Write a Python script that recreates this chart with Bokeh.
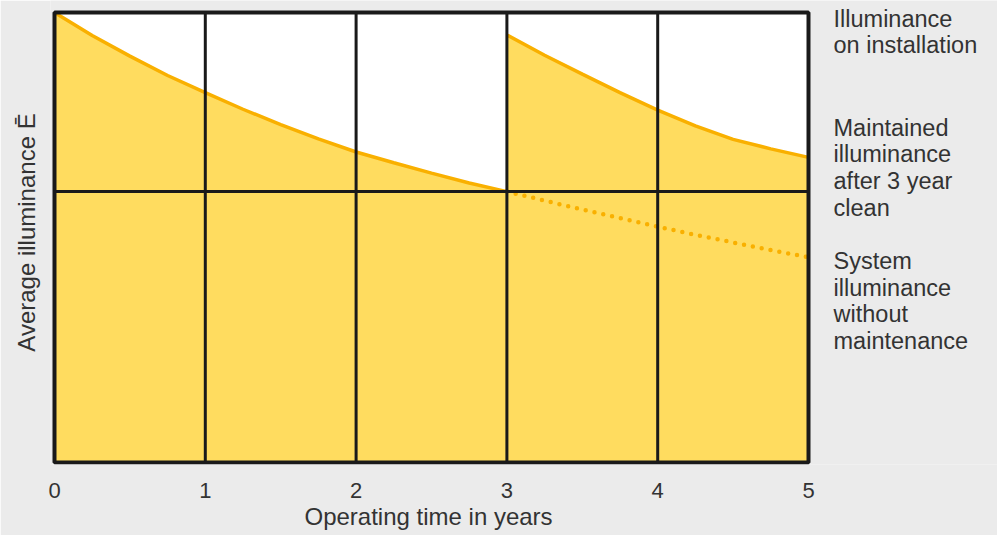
from bokeh.plotting import figure
from bokeh.models import FixedTicker, Range1d, Label, Title
from bokeh.embed import file_html
from bokeh.resources import INLINE

# ---- data ----
years_before = [0, 0.25, 0.5, 0.75, 1.0, 1.25, 1.5, 1.75, 2.0, 2.25, 2.5, 2.75, 3.0]
illum_before = [100, 94.9, 90.3, 86.0, 82.2, 78.5, 75.1, 71.9, 69.0, 66.6, 64.3, 62.1, 60.2]

years_after = [3.0, 3.25, 3.5, 3.75, 4.0, 4.25, 4.5, 4.75, 5.0]
illum_after_clean = [95.0, 90.5, 86.3, 82.2, 78.3, 74.8, 71.8, 69.7, 67.8]
illum_no_maint = [60.2, 58.2, 56.2, 54.3, 52.4, 50.6, 48.9, 47.2, 45.6]

maintained_level = 60.2
y_full_scale = 100
x_ticks = [0, 1, 2, 3, 4, 5]
x_label = "Operating time in years"
y_label = "Average illuminance \u0112"

notes = [
    ["Illuminance", "on installation"],
    ["Maintained", "illuminance", "after 3 year", "clean"],
    ["System", "illuminance", "without", "maintenance"],
]
note_first_baseline = [98.6, 74.4, 44.8]   # data units, first line baseline of each note

# ---- style / layout ----
FILL = "#FFDC5F"
ORANGE = "#F9B000"
DARK = "#1a1a1a"
TEXT = "#333333"
BG = "#EBEBEB"
FONT = "Liberation Sans"

W, H = 997, 535
frame_left, frame_bottom = 50, 464        # screen px
x0_px, px_per_x = 54, 150.8               # where x=0 sits, px per year
y0_px, px_per_y = 462, 4.5                # where y=0 sits, px per unit
x_label_left_px = 304                     # where the x-axis title starts

x_range = Range1d(-(x0_px - frame_left) / px_per_x, (W - x0_px) / px_per_x)
y_range = Range1d(-(frame_bottom - y0_px) / px_per_y, y0_px / px_per_y)

p = figure(width=W, height=H, x_range=x_range, y_range=y_range,
           output_backend="svg", toolbar_location=None,
           min_border_left=frame_left, min_border_right=0, min_border_top=0,
           min_border_bottom=H - frame_bottom)
p.background_fill_color = BG
p.border_fill_color = BG
p.outline_line_color = None
p.grid.visible = False

x_lo, x_hi = x_ticks[0], x_ticks[-1]

# plot area
p.quad(left=x_lo, right=x_hi, bottom=0, top=y_full_scale, fill_color="white", line_color=None)

p.varea(x=years_before, y1=0, y2=illum_before, fill_color=FILL)
p.varea(x=years_after, y1=0, y2=illum_after_clean, fill_color=FILL)
p.line(years_before, illum_before, line_color=ORANGE, line_width=3.5)
p.line(years_after, illum_after_clean, line_color=ORANGE, line_width=3.5)
p.line(years_after, illum_no_maint, line_color=ORANGE, line_width=4.5,
       line_dash="0 9", line_cap="round")

# grid lines over the fill
inner = x_ticks[1:-1]
p.segment(x0=inner, y0=[0] * len(inner), x1=inner, y1=[y_full_scale] * len(inner),
          line_color=DARK, line_width=3)
p.segment(x0=[x_lo], y0=[maintained_level], x1=[x_hi], y1=[maintained_level],
          line_color=DARK, line_width=3)
# frame
p.quad(left=x_lo, right=x_hi, bottom=0, top=y_full_scale, fill_color=None,
       line_color=DARK, line_width=4)

# x axis (tick labels)
xa = p.xaxis[0]
xa.ticker = FixedTicker(ticks=x_ticks)
xa.axis_line_color = None
xa.major_tick_line_color = None
xa.minor_tick_line_color = None
xa.major_tick_out = 0
xa.major_tick_in = 0
xa.major_label_standoff = 18
xa.major_label_text_font = FONT
xa.major_label_text_font_size = "22px"
xa.major_label_text_color = TEXT

# x axis title, below the tick labels, aligned under the plot area
p.add_layout(Title(text=x_label, align="left", offset=x_label_left_px - frame_left,
                   text_font=FONT, text_font_size="24px", text_font_style="normal",
                   text_color=TEXT, standoff=0), "below")

# y axis
ya = p.yaxis[0]
ya.ticker = FixedTicker(ticks=[])
ya.axis_line_color = None
ya.major_tick_line_color = None
ya.minor_tick_line_color = None
ya.major_tick_out = 0
ya.major_tick_in = 0
ya.major_label_standoff = 0
ya.axis_label = y_label
ya.axis_label_text_font = FONT
ya.axis_label_text_font_size = "24px"
ya.axis_label_text_font_style = "normal"
ya.axis_label_text_color = TEXT
ya.axis_label_standoff = 11

# right-hand notes
note_x = 5.166
line_step = 5.93
for lines, y0 in zip(notes, note_first_baseline):
    for i, t in enumerate(lines):
        p.add_layout(Label(x=note_x, y=y0 - i * line_step, text=t,
                           text_font=FONT, text_font_size="23.5px", text_color=TEXT,
                           text_baseline="alphabetic", text_align="left"))

html = file_html(p, INLINE)
html = html.replace("<body>", '<body style="background-color:#EBEBEB;">', 1)
open("out.html", "w").write(html)
